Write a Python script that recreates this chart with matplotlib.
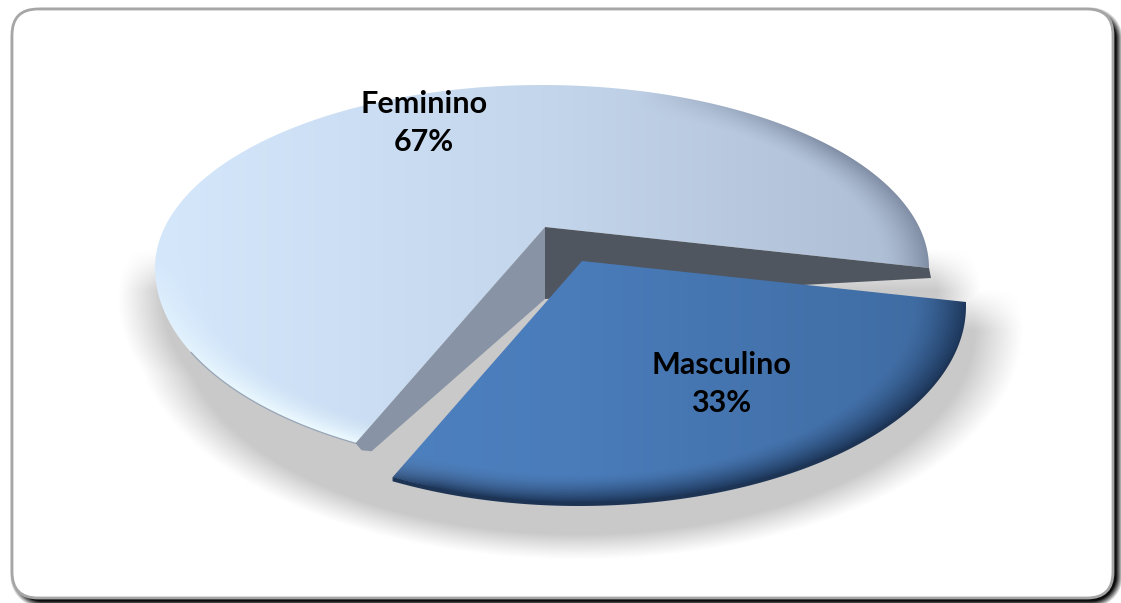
"""
3-D style pie chart: Feminino / Masculino
"""
import numpy as np
import matplotlib.pyplot as plt
from matplotlib.patches import Polygon, FancyBboxPatch

labels = ["Feminino", "Masculino"]
values = [67, 33]
pct_labels = ["67%", "33%"]

W, H = 1121, 603

# pie geometry in pixels (top face of the big slice, front half drawn taller)
cx, cy, rx = 542, 268, 387
ry_top, ry_bot = 183, 200
apex = (545, 227)
explode = (37, 34)
start = 0.0
wall_m = 4


def rim(th, ox=0.0, oy=0.0):
    t = np.radians(th)
    s = np.sin(t)
    ry = np.where(s > 0, ry_top, ry_bot)
    return cx + ox + rx * np.cos(t), cy + oy - ry * s


def norm_uv(X, Y, ecx, ecy):
    u = (X - ecx) / rx
    v = np.where(Y < ecy, (Y - ecy) / ry_top, (Y - ecy) / ry_bot)
    return u, v


def soft_ellipse(X, Y, ecx, ecy, y_from, flat=4, outer=24):
    u, v = norm_uv(X, Y, ecx, ecy)
    s = (np.hypot(u, v) - 1) * 190 - flat
    a = np.clip((outer - s) / outer, 0, 1) ** 1.1
    return a * np.clip((Y - y_from) / 40, 0, 1)


def shade(X, Y, ecx, ecy, c_l, c_m, c_r, hi, lo, edge, light_deg, dark_deg, dark_cut):
    u, v = norm_uv(X, Y, ecx, ecy)
    rho = np.hypot(u, v)
    t = np.clip((u + 1) / 2, 0, 1)[..., None]
    c_l, c_m, c_r = (np.array(c, float) / 255 for c in (c_l, c_m, c_r))
    col = np.where(t < 0.5, c_l + (c_m - c_l) * (t / 0.5),
                   c_m + (c_r - c_m) * ((t - 0.5) / 0.5))
    b = (np.clip((rho - edge) / (1 - edge), 0, 1) ** 1.5)[..., None]
    phi = np.arctan2(v, u)
    hi_w = np.clip((np.cos(phi - np.radians(light_deg)) - 0.45) / 0.55, 0, 1)[..., None]
    lo_w = np.clip((np.cos(phi - np.radians(dark_deg)) - dark_cut) / 0.5, 0, 1)[..., None]
    hi = np.array(hi, float) / 255
    lo = np.array(lo, float) / 255
    col = col + b * hi_w * (hi - col)
    col = col + b * lo_w * (lo - col)
    return np.clip(col, 0, 1), rho


def rrect_sdf(X, Y, x0, y0, x1, y1, r):
    qx = np.abs(X - (x0 + x1) / 2) - ((x1 - x0) / 2 - r)
    qy = np.abs(Y - (y0 + y1) / 2) - ((y1 - y0) / 2 - r)
    return (np.hypot(np.maximum(qx, 0), np.maximum(qy, 0))
            + np.minimum(np.maximum(qx, qy), 0) - r)


fracs = np.array(values, float) / sum(values)
sweep = 360 * fracs
th_f = np.linspace(start, start + sweep[0], 500)
th_m = np.linspace(start, start - sweep[1], 300)

X, Y = np.meshgrid(np.arange(W) + 0.5, np.arange(H) + 0.5)

fig = plt.figure(figsize=(W / 100, H / 100), dpi=100)
ax = fig.add_axes([0, 0, 1, 1])
ax.set_axis_off()

# frame with drop shadow
bx0, by0, bx1, by1, br = 12, 9, 1113, 598, 26
d = rrect_sdf(X, Y, bx0 + 4, by0 + 4, bx1 + 4, by1 + 4, br)
sh = np.zeros((H, W, 4))
sh[..., 3] = np.clip((6 - d) / 7, 0, 1) * 0.95
ax.imshow(sh, extent=(0, W, H, 0), interpolation="bilinear", zorder=0)
ax.add_patch(FancyBboxPatch((bx0, by0), bx1 - bx0, by1 - by0,
                            boxstyle=f"round,pad=0,rounding_size={br}",
                            facecolor="white", edgecolor="#a6a6a6", lw=2, zorder=1))

# floor shadow below the slices
ex, ey = explode
a = np.maximum(soft_ellipse(X, Y, cx + 8, cy + 30, y_from=250, flat=0, outer=22),
               soft_ellipse(X, Y, cx + ex, cy + ey + 28, y_from=290))
fl = np.zeros((H, W, 4))
fl[..., :3] = 0.79
fl[..., 3] = a
ax.imshow(fl, extent=(0, W, H, 0), interpolation="bilinear", zorder=2)

# Feminino top face
fxs, fys = rim(th_f)
fem = Polygon(np.column_stack([np.r_[apex[0], fxs], np.r_[apex[1], fys]]),
              closed=True, facecolor="none", edgecolor="none", zorder=3)
ax.add_patch(fem)
fcol, _ = shade(X, Y, cx, cy, (212, 231, 251), (196, 214, 236), (172, 188, 210),
                (238, 251, 255), (128, 142, 165), edge=0.88,
                light_deg=120, dark_deg=0, dark_cut=0.25)
im = ax.imshow(fcol, extent=(0, W, H, 0), interpolation="bilinear", zorder=3)
im.set_clip_path(fem)
edge_th = np.linspace(205, start + sweep[0], 60)
ex_, ey_ = rim(edge_th)
ax.plot(ex_, ey_, color="#8796ad", lw=0.9, alpha=0.8, zorder=3.5)

# cut walls of Feminino
p0 = rim(start)
p1 = rim(start + sweep[0])
ax.add_patch(Polygon([apex, p0, (p0[0] + 2, p0[1] + 10), (apex[0], apex[1] + 72)],
                     closed=True, facecolor="#4f5660", edgecolor="none", zorder=4))
ax.add_patch(Polygon([apex, p1, (p1[0] + 6, p1[1] + 7), (p1[0] + 16, p1[1] + 8),
                      (apex[0], apex[1] + 72)],
                     closed=True, facecolor="#8893a5", edgecolor="none", zorder=4))

# Masculino (top face + front wall)
mxs, mys = rim(th_m, ex, ey)
ap_m = (apex[0] + ex, apex[1] + ey)
outline_x = np.r_[ap_m[0], mxs[0], mxs, mxs[-1]]
outline_y = np.r_[ap_m[1], mys[0], mys + wall_m, mys[-1]]
mas = Polygon(np.column_stack([outline_x, outline_y]), closed=True,
              facecolor="none", edgecolor="none", zorder=5)
ax.add_patch(mas)
mcol, mrho = shade(X, Y, cx + ex, cy + ey, (80, 132, 196), (74, 124, 186), (62, 106, 160),
                   (132, 182, 244), (30, 56, 92), edge=0.86,
                   light_deg=150, dark_deg=45, dark_cut=-0.1)
wall = np.array([30, 52, 84], float) / 255
mcol = np.where((mrho > 1)[..., None], wall, mcol)
im2 = ax.imshow(mcol, extent=(0, W, H, 0), interpolation="bilinear", zorder=5)
im2.set_clip_path(mas)

# data labels
font = dict(family=["Lato", "DejaVu Sans"], fontsize=22, fontweight="bold",
            color="black", ha="center", va="center", linespacing=1.45, zorder=6)
ax.text(424, 123, f"{labels[0]}\n{pct_labels[0]}", **font)
ax.text(721, 384, f"{labels[1]}\n{pct_labels[1]}", **font)

ax.set_xlim(0, W)
ax.set_ylim(H, 0)
ax.set_aspect("auto")
fig.savefig("out.png", dpi=100)
